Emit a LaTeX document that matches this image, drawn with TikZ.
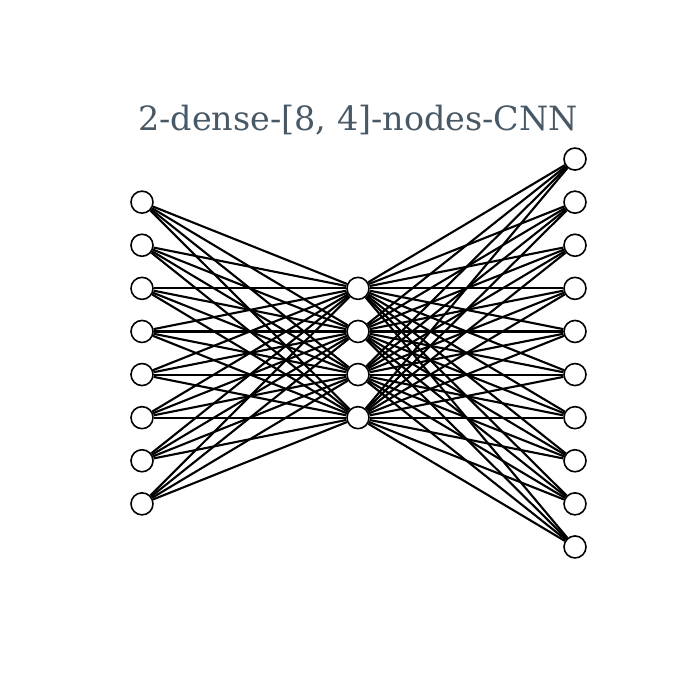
\documentclass[tikz,border=0pt]{standalone}
\usepackage{fontspec}
\setmainfont{DejaVu Serif}
\usepackage{tikz}
\usetikzlibrary{positioning}
\definecolor{titlegray}{RGB}{72,88,101}

\begin{document}
\begin{tikzpicture}[
    x=0.01cm, y=-0.01cm,
    neuron/.style={draw, circle, line width=0.45pt, fill=white, minimum size=0.22cm, inner sep=0pt},
    conn/.style={draw, line width=0.6pt, black},
    title/.style={font=\fontsize{9.5}{11}\selectfont, text=titlegray}
  ]
  \useasboundingbox (0,0) rectangle (700,700);
  \node[title] (heading) at (358,120) {2-dense-[8, 4]-nodes-CNN};
  % layers
  \foreach \i in {1,...,8}
    \node[neuron] (in\i) at (142,{353+43.1*(\i-4.5)}) {};
  \foreach \j in {1,...,4}
    \node[neuron] (hid\j) at (358,{353+43.1*(\j-2.5)}) {};
  \foreach \k in {1,...,10}
    \node[neuron] (out\k) at (575,{353+43.1*(\k-5.5)}) {};
  % connections
  \foreach \i in {1,...,8}
    \foreach \j in {1,...,4}
      \draw[conn] (in\i) -- (hid\j);
  \foreach \j in {1,...,4}
    \foreach \k in {1,...,10}
      \draw[conn] (hid\j) -- (out\k);
\end{tikzpicture}
\end{document}
